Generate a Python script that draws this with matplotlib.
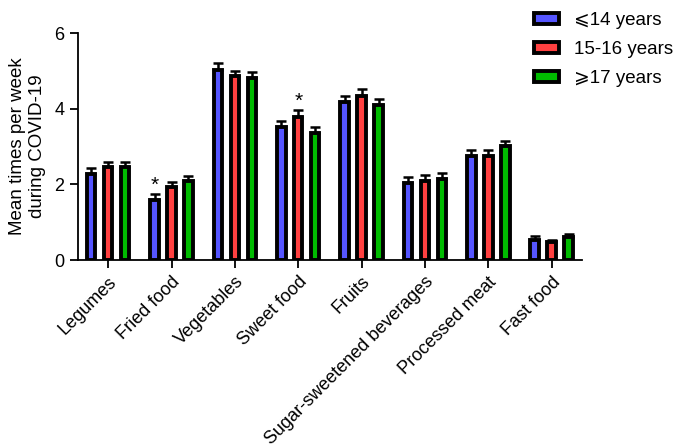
import numpy as np
import matplotlib.pyplot as plt

plt.rcParams['font.family'] = ['Liberation Sans', 'DejaVu Sans']

categories = ['Legumes', 'Fried food', 'Vegetables', 'Sweet food', 'Fruits',
              'Sugar-sweetened beverages', 'Processed meat', 'Fast food']
groups = ['⩽14 years', '15-16 years', '⩾17 years']
colors = ['#5555ff', '#ff4040', '#00bb00']

# means and SEM
means_14 = [2.28, 1.59, 5.03, 3.51, 4.17, 2.03, 2.75, 0.53]
means_15 = [2.47, 1.92, 4.87, 3.79, 4.34, 2.10, 2.75, 0.47]
means_17 = [2.46, 2.10, 4.82, 3.37, 4.10, 2.15, 3.02, 0.62]
err_14 = [0.16, 0.15, 0.19, 0.18, 0.18, 0.17, 0.15, 0.10]
err_15 = [0.13, 0.15, 0.14, 0.17, 0.17, 0.15, 0.16, 0.07]
err_17 = [0.13, 0.12, 0.15, 0.14, 0.17, 0.14, 0.14, 0.08]

# significance markers: (category index, group index)
stars = [(1, 0), (3, 1)]

means = [means_14, means_15, means_17]
errs = [err_14, err_15, err_17]

fig = plt.figure(figsize=(6.88, 4.47), dpi=100)
ax = fig.add_axes([0.113, 0.418, 0.733, 0.508])

x = np.arange(len(categories))
step = 0.268
width = 0.135
for i in range(3):
    pos = x + (i - 1) * step
    ax.bar(pos, means[i], width, color=colors[i], edgecolor='black',
           linewidth=2.8, label=groups[i], zorder=2)
    ax.errorbar(pos, means[i], yerr=[np.zeros(len(x)), errs[i]], fmt='none',
                ecolor='black', elinewidth=1.8, capsize=3.5, capthick=1.8, zorder=1)

for c, g in stars:
    ax.text(x[c] + (g - 1) * step, means[g][c] + errs[g][c] - 0.02, '*',
            ha='center', va='bottom', fontsize=15)

ax.set_xlim(-0.48, 7.48)
ax.set_ylim(0, 6)
ax.set_yticks([0, 2, 4, 6])
ax.set_xticks(x)
ax.set_xticklabels(categories, rotation=45, ha='right', rotation_mode='anchor')
ax.tick_params(labelsize=13, width=1.3, length=6)
ax.set_ylabel('Mean times per week\nduring COVID-19', fontsize=13.5, labelpad=6)
for s in ['top', 'right']:
    ax.spines[s].set_visible(False)
for s in ['left', 'bottom']:
    ax.spines[s].set_linewidth(1.3)

fig.legend(loc='upper left', bbox_to_anchor=(0.770, 0.982), frameon=False,
           fontsize=13.5, handlelength=1.35, handleheight=0.55, labelspacing=0.65,
           handletextpad=0.8, borderpad=0.2, borderaxespad=0)

fig.savefig('out.png', dpi=100)
